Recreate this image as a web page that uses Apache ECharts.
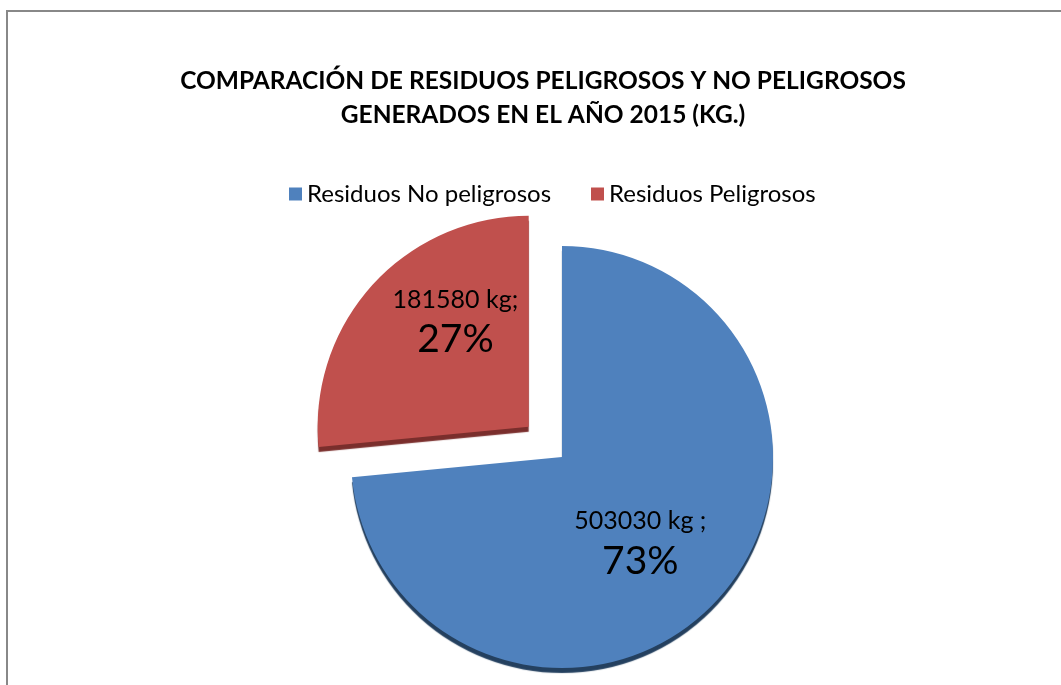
<!DOCTYPE html>
<html>
<head>
<meta charset="utf-8">
<script src="https://cdn.jsdelivr.net/npm/echarts@6/dist/echarts.min.js"></script>
<style>
html,body{margin:0;padding:0;background:#fff;}
#c{width:1061px;height:685px;}
</style>
</head>
<body>
<div id="c"></div>
<script>
const titleLines = ['COMPARACIÓN DE RESIDUOS PELIGROSOS Y NO PELIGROSOS', 'GENERADOS EN EL AÑO 2015 (KG.)'];
const categories = ['Residuos No peligrosos', 'Residuos Peligrosos'];
const values = [503030, 181580];
const unitText = ['kg ;', 'kg;'];
const colors = ['#4F81BD', '#C0504D'];
const shadowColors = ['#24405f', '#7a2e2c'];

const chart = echarts.init(document.getElementById('c'));
const FONT = 'Lato';

chart.setOption({
  animation: false,
  backgroundColor: '#ffffff',
  title: {
    text: titleLines.join('\n'),
    left: 538,
    textAlign: 'center',
    top: 59,
    textStyle: { fontFamily: FONT, fontWeight: 'bold', fontSize: 24.5, color: '#000', lineHeight: 34 }
  },
  legend: {
    data: categories,
    top: 177,
    left: 284,
    itemWidth: 13,
    itemHeight: 13,
    itemGap: 40,
    icon: 'rect',
    textStyle: { fontFamily: FONT, fontSize: 24, color: '#000' }
  },
  graphic: [{
    type: 'rect',
    shape: { x: 7, y: 11, width: 1100, height: 700 },
    style: { fill: 'none', stroke: '#888888', lineWidth: 2 },
    silent: true
  }],
  series: [{
    type: 'pie',
    center: [562, 457],
    radius: 211,
    startAngle: 90,
    clockwise: true,
    selectedMode: 'single',
    selectedOffset: 45,
    labelLine: { show: false },
    label: {
      position: 'inside',
      formatter: function (p) {
        return '{a|' + p.value + ' ' + unitText[p.dataIndex] + '}\n{b|' + Math.round(p.percent) + '%}';
      },
      rich: {
        a: { fontFamily: FONT, fontSize: 25, color: '#000', lineHeight: 34 },
        b: { fontFamily: FONT, fontSize: 39, color: '#000', lineHeight: 46 }
      }
    },
    labelLayout: function (p) {
      return p.dataIndex === 0 ? { dx: -2, dy: 14 } : { dx: 7, dy: -31 };
    },
    emphasis: { disabled: true },
    data: categories.map(function (name, i) {
      return {
        name: name,
        value: values[i],
        selected: i === 1,
        itemStyle: {
          color: colors[i],
          shadowColor: shadowColors[i],
          shadowOffsetY: 5,
          shadowBlur: 1
        }
      };
    })
  }]
});
</script>
</body>
</html>
